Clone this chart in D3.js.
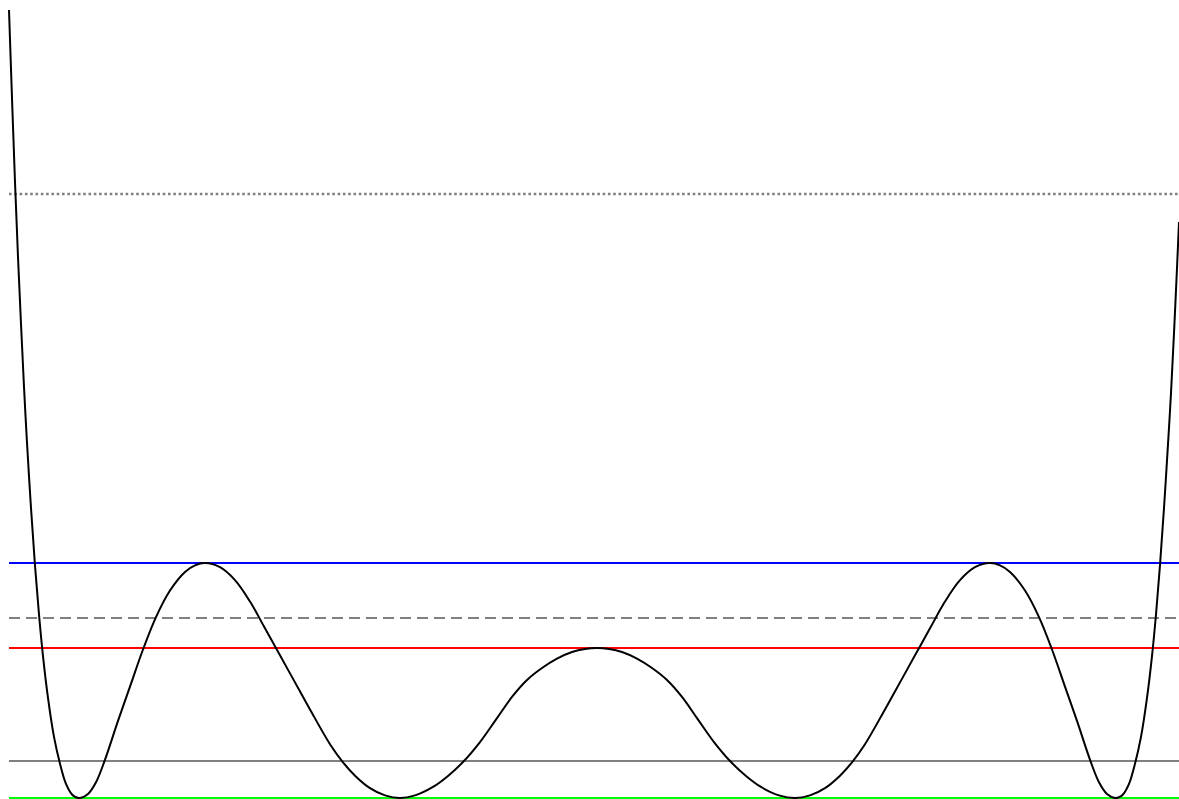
<!DOCTYPE html>
<html>
<head>
<meta charset="utf-8">
<script src="https://cdn.jsdelivr.net/npm/d3@7"></script>
<style>
  html, body { margin: 0; padding: 0; background: #fff; }
  svg { display: block; }
</style>
</head>
<body>
<svg id="chart"></svg>
<script>
// curve samples (x in 0..100, energy with blue level = 1)
const curveX = [
  0, 0.256, 0.513, 0.769, 1.026, 1.282, 1.538, 1.880, 2.222, 2.564, 2.906, 3.333, 3.846, 4.359, 4.872, 5.385, 5.726, 6.068,
  6.752, 7.436, 8.162, 9.316, 10.342, 11.453, 12.564, 13.761, 15.043, 15.897, 16.752,
  18.034, 19.316, 20.598, 21.880, 23.162, 24.444, 25.726, 27.436, 28.547, 29.573, 30.855, 32.137, 33.419,
  34.701, 36.239, 37.521, 38.803, 40.256, 41.709, 42.991, 44.274, 45.556, 46.838, 48.120, 49.231, 50.256,
  51.282, 52.393, 53.675, 54.957, 56.239, 57.521, 58.803, 60.256, 61.709, 62.991, 64.274, 65.812, 67.179,
  68.462, 69.744, 71.026, 72.051, 73.162, 74.872, 76.154, 77.436, 78.718, 80.000, 81.282, 82.564, 83.846,
  84.701, 85.556, 86.838, 88.034, 89.145, 90.256, 91.282, 92.436, 93.162, 93.846, 94.530,
  94.872, 95.214, 95.726, 96.239, 96.752, 97.265, 97.692, 98.034, 98.376, 98.718, 99.060, 99.316, 99.573, 99.829, 100
];
const curveY = [
  3.353, 2.979, 2.621, 2.302, 2.017, 1.749, 1.513, 1.234, 0.989, 0.781, 0.604, 0.426, 0.260, 0.146, 0.060, 0.015, 0.003, 0,
  0.017, 0.067, 0.157, 0.328, 0.474, 0.632, 0.770, 0.883, 0.962, 0.990, 1.000,
  0.982, 0.927, 0.836, 0.722, 0.607, 0.492, 0.377, 0.229, 0.152, 0.095, 0.042, 0.011, 0,
  0.011, 0.047, 0.094, 0.153, 0.238, 0.340, 0.430, 0.502, 0.553, 0.593, 0.621, 0.634, 0.638,
  0.634, 0.621, 0.593, 0.553, 0.502, 0.430, 0.340, 0.238, 0.153, 0.094, 0.047, 0.011, 0,
  0.011, 0.042, 0.095, 0.152, 0.229, 0.377, 0.492, 0.607, 0.722, 0.836, 0.927, 0.982, 1.000,
  0.990, 0.962, 0.883, 0.770, 0.632, 0.474, 0.328, 0.157, 0.067, 0.017, 0,
  0.003, 0.015, 0.060, 0.146, 0.260, 0.426, 0.604, 0.781, 0.991, 1.234, 1.506, 1.723, 1.979, 2.255, 2.451
];

// horizontal reference levels
const levelNames = ['dotted', 'blue', 'dashed', 'red', 'gray', 'green'];
const levelValues = [2.57, 1.0, 0.766, 0.638, 0.157, 0];

const levelStyle = {
  dotted: { color: '#808080', dash: '2.6,2.7', width: 2.6 },
  blue:   { color: '#0000ff', dash: null, width: 2 },
  dashed: { color: '#808080', dash: '11,6', width: 2 },
  red:    { color: '#ff0000', dash: null, width: 2 },
  gray:   { color: '#808080', dash: null, width: 2 },
  green:  { color: '#00ff00', dash: null, width: 2 }
};

const width = 1179;
const height = 799;

const svg = d3.select('#chart')
  .attr('width', width)
  .attr('height', height);

const xScale = d3.scaleLinear()
  .domain([0, 100])
  .range([9, 1179]);

const yScale = d3.scaleLinear()
  .domain([0, 3.4])
  .range([798, -1]);

const levels = levelNames.map((name, i) => ({ name: name, value: levelValues[i] }));

// reference lines
svg.selectAll('.level')
  .data(levels)
  .enter()
  .append('line')
  .attr('class', 'level')
  .attr('x1', xScale(0))
  .attr('x2', xScale(100))
  .attr('y1', d => yScale(d.value))
  .attr('y2', d => yScale(d.value))
  .style('stroke', d => levelStyle[d.name].color)
  .style('stroke-width', d => levelStyle[d.name].width)
  .style('stroke-dasharray', d => levelStyle[d.name].dash);

// the curve itself
const points = curveX.map((x, i) => [x, curveY[i]]);

const line = d3.line()
  .x(d => xScale(d[0]))
  .y(d => yScale(d[1]))
  .curve(d3.curveCatmullRom.alpha(0.5));

svg.append('path')
  .datum(points)
  .attr('d', line)
  .style('fill', 'none')
  .style('stroke', '#000')
  .style('stroke-width', 2);
</script>
</body>
</html>
